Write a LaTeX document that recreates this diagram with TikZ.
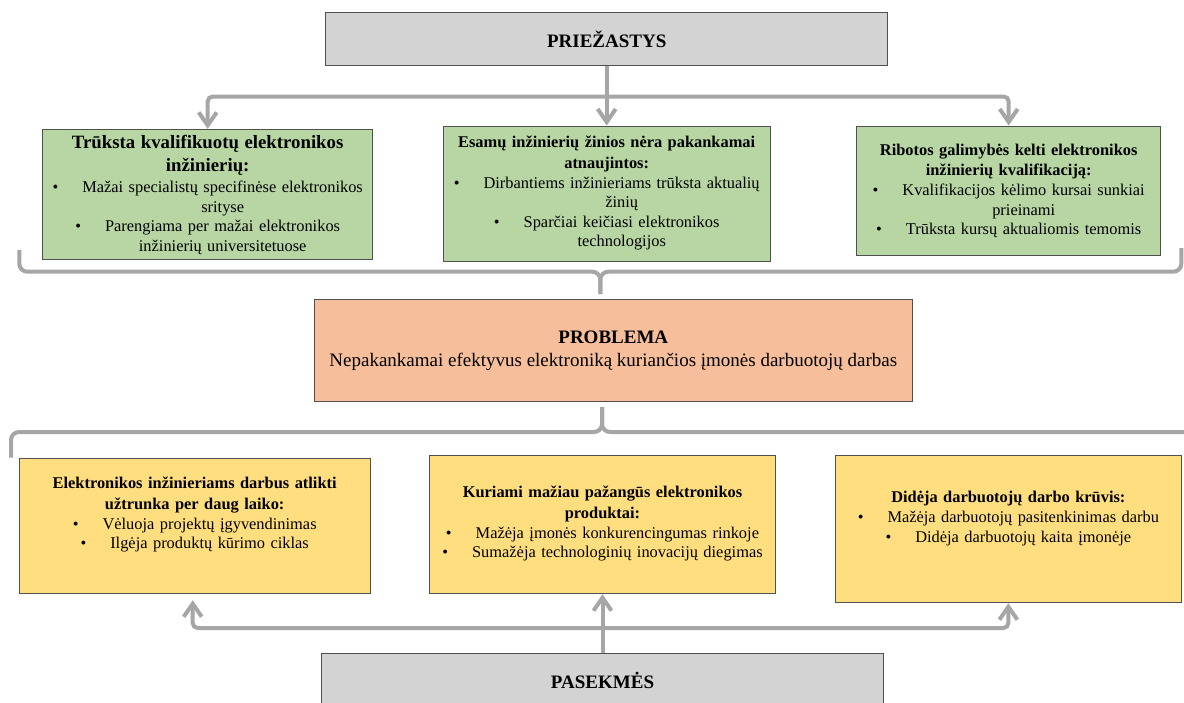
\documentclass[tikz,border=0pt]{standalone}
\usepackage{fontspec}
\setmainfont{Liberation Serif}
\usetikzlibrary{arrows.meta}
\definecolor{causegreen}{HTML}{B7D6A3}
\definecolor{effectyellow}{HTML}{FFDE80}
\definecolor{problemsalmon}{HTML}{F6BE9A}
\definecolor{headgray}{HTML}{D3D3D3}
\definecolor{linkgray}{HTML}{A6A6A6}
\definecolor{edgegray}{HTML}{505050}
\newcommand{\itembul}[1]{\textbullet\hspace{24pt}#1}
\newcommand{\itemcont}[1]{\hspace*{30pt}#1}

\begin{document}
\begin{tikzpicture}[x=1pt,y=-1pt,
  box/.style={draw=edgegray,line width=1pt,inner sep=0pt},
  txt/.style={inner sep=0pt,align=center,font=\fontsize{16.4}{19.6}\selectfont},
  link/.style={draw=linkgray,line width=4pt,rounded corners=5pt},
  arr/.style={link,-{Straight Barb[length=13pt,width=18pt,line width=4pt]}}]
\path[use as bounding box,fill=white] (0,0) rectangle (1184,702);

\node[box,fill=headgray,minimum width=562pt,minimum height=52.3pt] (priez) at (606.7,38.85) {};
\node[txt,font=\fontsize{19}{22}\selectfont\bfseries] (priezt) at (606.7,39.3) {PRIEŽASTYS};

\node[box,fill=causegreen,minimum width=330pt,minimum height=129.7pt] (g1) at (207.7,194.2) {};
\node[box,fill=causegreen,minimum width=327.3pt,minimum height=135pt] (g2) at (606.7,193.5) {};
\node[box,fill=causegreen,minimum width=304pt,minimum height=129pt] (g3) at (1008.7,190.5) {};
\node[txt,text width=326pt] (g1t) at (207.7,194.9) {{\fontsize{18.8}{23}\selectfont\bfseries Trūksta kvalifikuotų elektronikos\\[3.4pt] inžinierių:}\\[1.7pt]
\itembul{Mažai specialistų specifinėse elektronikos}\\
\itemcont{srityse}\\
\itembul{Parengiama per mažai elektronikos}\\
\itemcont{inžinierių universitetuose}};
\node[txt,text width=323pt] (g2t) at (606.7,193.2) {\textbf{Esamų inžinierių žinios nėra pakankamai\\[1.4pt] atnaujintos:}\\
\itembul{Dirbantiems inžinieriams trūksta aktualių}\\
\itemcont{žinių}\\
\itembul{Sparčiai keičiasi elektronikos}\\
\itemcont{technologijos}};
\node[txt,text width=300pt] (g3t) at (1008.7,190.9) {\textbf{Ribotos galimybės kelti elektronikos\\[1pt] inžinierių kvalifikaciją:}\\
\itembul{Kvalifikacijos kėlimo kursai sunkiai}\\
\itemcont{prieinami}\\
\itembul{Trūksta kursų aktualiomis temomis}};

\node[box,fill=problemsalmon,minimum width=598pt,minimum height=102.7pt] (prob) at (613.3,350.35) {};
\node[txt,font=\fontsize{19}{22.7}\selectfont] (probt) at (613.3,350.7) {\textbf{PROBLEMA}\\ Nepakankamai efektyvus elektroniką kuriančios įmonės darbuotojų darbas};

\node[box,fill=effectyellow,minimum width=350.7pt,minimum height=135.7pt] (y1) at (194.7,525.85) {};
\node[box,fill=effectyellow,minimum width=345.6pt,minimum height=138.7pt] (y2) at (602.5,524.35) {};
\node[box,fill=effectyellow,minimum width=346.7pt,minimum height=147.7pt] (y3) at (1008.35,528.85) {};
\node[txt,text width=346pt] (y1t) at (194.7,514.7) {\textbf{Elektronikos inžinieriams darbus atlikti\\[1.4pt] užtrunka per daug laiko:}\\
\itembul{Vėluoja projektų įgyvendinimas}\\
\itembul{Ilgėja produktų kūrimo ciklas}};
\node[txt,text width=342pt] (y2t) at (602.5,523.8) {\textbf{Kuriami mažiau pažangūs elektronikos\\[1pt] produktai:}\\
\itembul{Mažėja įmonės konkurencingumas rinkoje}\\
\itembul{Sumažėja technologinių inovacijų diegimas}};
\node[txt,text width=342pt] (y3t) at (1008.35,518.3) {\textbf{Didėja darbuotojų darbo krūvis:}\\[0.8pt]
\itembul{Mažėja darbuotojų pasitenkinimas darbu}\\
\itembul{Didėja darbuotojų kaita įmonėje}};

\node[box,fill=headgray,minimum width=561.6pt,minimum height=53.3pt] (pasek) at (602.5,680.35) {};
\node[txt,font=\fontsize{19}{22}\selectfont\bfseries] (pasekt) at (602.5,680.3) {PASEKMĖS};

\coordinate (topfork) at (606.7,96.5);
\draw[arr] (priez.south) -- (g2.north);
\draw[arr] (topfork) -| (g1.north);
\draw[arr] (topfork) -| (g3.north);

\coordinate (botfork) at (602.5,628);
\draw[arr] (pasek.north) -- (y2.south);
\draw[arr,shorten >=6pt] (botfork) -| ([xshift=-2pt]y1.south);
\draw[arr] (botfork) -| (y3.south);

\draw[link,rounded corners=8pt] (19.3,250) -- (19.3,271.7) -- (600.3,271.7) -- (600.3,294);
\draw[link,rounded corners=8pt] (1181.3,248) -- (1181.3,271.7) -- (600.3,271.7) -- (600.3,294);
\draw[link,rounded corners=8pt] (11,457.7) -- (11,432) -- (602,432) -- (602,407);
\draw[link,rounded corners=8pt] (1196,458) -- (1196,432) -- (602,432) -- (602,407);
\end{tikzpicture}
\end{document}
